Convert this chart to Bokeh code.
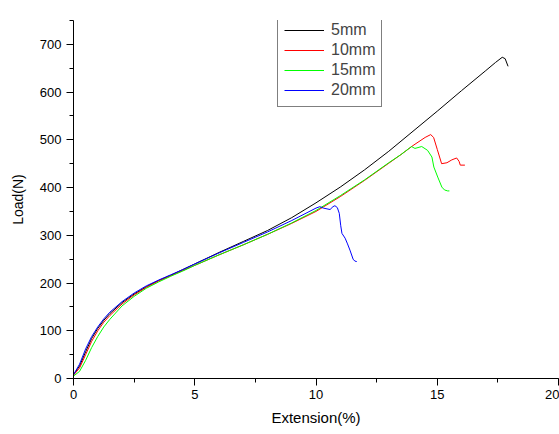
from bokeh.plotting import figure
from bokeh.models import Range1d, SingleIntervalTicker, Legend, LegendItem
from bokeh.embed import file_html
from bokeh.resources import INLINE

# ---- data ----
x_5mm = [0, 0.25, 0.5, 0.75, 1.0, 1.25, 1.5, 2.0, 2.5, 3.0, 3.5, 4.0, 4.5, 5.0, 6.0, 7.0, 8.0, 9.0,
         10.0, 11.0, 12.0, 13.0, 14.0, 15.0, 16.0, 17.0, 17.4, 17.68, 17.8, 17.92]
y_5mm = [8, 26, 56, 84, 105, 122, 136, 159, 177, 192, 205, 216, 228, 240, 264, 287, 310, 337,
         368, 401, 437, 476, 518, 560, 603, 645, 662, 673, 670, 654]

x_10mm = [0, 0.25, 0.5, 0.75, 1.0, 1.25, 1.5, 2.0, 2.5, 3.0, 3.5, 4.0, 4.5, 5.0, 6.0, 7.0, 8.0, 9.0,
          10.0, 11.0, 12.0, 13.0, 13.5, 14.0, 14.5, 14.73, 14.85, 15.0, 15.18, 15.4, 15.6, 15.8,
          15.9, 15.95, 16.14]
y_10mm = [7, 22, 50, 78, 100, 118, 132, 156, 175, 191, 204, 215, 226, 237, 259, 280, 302, 325,
          350, 381, 415, 451, 469, 488, 505, 511, 505, 480, 450, 452, 458, 462, 455, 447, 447]

x_15mm = [0, 0.25, 0.5, 0.75, 1.0, 1.25, 1.5, 2.0, 2.5, 3.0, 3.5, 4.0, 4.5, 5.0, 6.0, 7.0, 8.0, 9.0,
          10.0, 11.0, 12.0, 13.0, 13.5, 13.94, 14.08, 14.36, 14.6, 14.78, 14.86, 15.02, 15.19,
          15.3, 15.43, 15.5]
y_15mm = [5, 15, 38, 65, 88, 108, 124, 152, 172, 189, 202, 214, 225, 237, 259, 280, 302, 326,
          352, 383, 416, 452, 469, 486, 482, 486, 478, 464, 443, 422, 401, 395, 393, 393]

x_20mm = [0, 0.25, 0.5, 0.75, 1.0, 1.25, 1.5, 2.0, 2.5, 3.0, 3.5, 4.0, 4.5, 5.0, 6.0, 7.0, 8.0, 9.0,
          10.0, 10.16, 10.3, 10.58, 10.7, 10.78, 10.88, 10.96, 11.02, 11.07, 11.2, 11.3, 11.4,
          11.53, 11.6, 11.68]
y_20mm = [8, 30, 62, 88, 108, 125, 139, 161, 179, 194, 206, 217, 228, 240, 263, 285, 307, 331,
          357, 360, 357, 354, 360, 362, 358, 346, 320, 304, 294, 282, 269, 250, 246, 245]

series_names = ["5mm", "10mm", "15mm", "20mm"]
series_x = [x_5mm, x_10mm, x_15mm, x_20mm]
series_y = [y_5mm, y_10mm, y_15mm, y_20mm]
series_colors = ["#000000", "#ff0000", "#00ff00", "#0000ff"]

FONT = "Liberation Sans"

p = figure(width=559, height=434, output_backend="svg", toolbar_location=None,
           x_range=Range1d(0, 20), y_range=Range1d(0, 750),
           min_border_left=73, min_border_right=1, min_border_top=20, min_border_bottom=56)
p.outline_line_color = None
p.xgrid.visible = False
p.ygrid.visible = False
p.background_fill_color = "white"
p.border_fill_color = "white"

items = []
for name, xs, ys, c in zip(series_names, series_x, series_y, series_colors):
    r = p.line(xs, ys, line_color=c, line_width=1)
    items.append(LegendItem(label=name, renderers=[r]))

for ax in (p.xaxis[0], p.yaxis[0]):
    ax.axis_line_color = "black"
    ax.major_tick_line_color = "black"
    ax.minor_tick_line_color = "black"
    ax.major_tick_out = 7
    ax.major_tick_in = 0
    ax.minor_tick_out = 4
    ax.minor_tick_in = 0
    ax.major_label_text_font = FONT
    ax.major_label_text_font_size = "13px"
    ax.major_label_text_color = "black"
    ax.axis_label_text_font = FONT
    ax.axis_label_text_font_style = "normal"
    ax.axis_label_text_color = "black"

p.xaxis[0].ticker = SingleIntervalTicker(interval=5, num_minor_ticks=2)
p.yaxis[0].ticker = SingleIntervalTicker(interval=100, num_minor_ticks=2)
p.xaxis[0].axis_label = "Extension(%)"
p.yaxis[0].axis_label = "Load(N)"
p.xaxis[0].axis_label_text_font_size = "15px"
p.yaxis[0].axis_label_text_font_size = "14px"
p.xaxis[0].major_label_standoff = 4
p.yaxis[0].major_label_standoff = 5
p.xaxis[0].axis_label_standoff = 7
p.yaxis[0].axis_label_standoff = 11

legend = Legend(items=items, location=(204, 271), margin=0, padding=6, spacing=0,
                glyph_width=40, glyph_height=20, label_height=20, label_standoff=7,
                label_text_font=FONT, label_text_font_size="16px",
                border_line_color="black", border_line_width=1,
                background_fill_color="white", background_fill_alpha=1.0)
p.add_layout(legend)

open("out.html", "w").write(file_html(p, INLINE))
